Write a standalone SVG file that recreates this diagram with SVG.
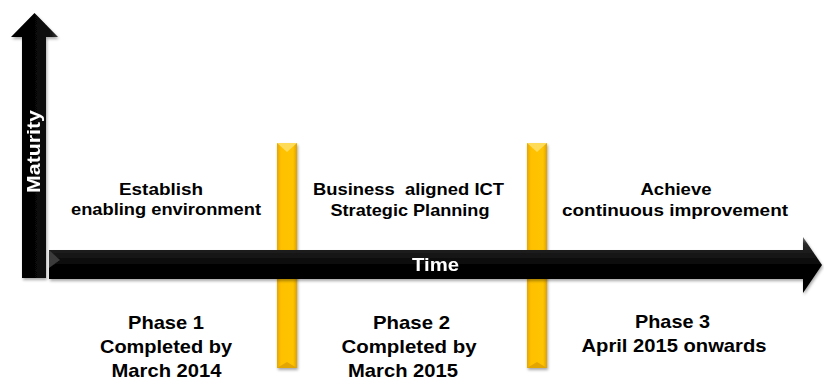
<svg xmlns="http://www.w3.org/2000/svg" width="824" height="381" viewBox="0 0 824 381">
  <defs>
    <linearGradient id="hGrad" x1="0" y1="0" x2="0" y2="1">
      <stop offset="0" stop-color="#7a7a7a"/>
      <stop offset="0.12" stop-color="#2a2a2a"/>
      <stop offset="0.5" stop-color="#050505"/>
      <stop offset="1" stop-color="#000"/>
    </linearGradient>
    <linearGradient id="vGrad" x1="0" y1="0" x2="1" y2="0">
      <stop offset="0" stop-color="#000"/>
      <stop offset="0.8" stop-color="#0a0a0a"/>
      <stop offset="1" stop-color="#3a3a3a"/>
    </linearGradient>
    <linearGradient id="barGrad" x1="0" y1="0" x2="1" y2="0">
      <stop offset="0" stop-color="#E6A700"/>
      <stop offset="0.2" stop-color="#FFC000"/>
      <stop offset="0.8" stop-color="#FFC400"/>
      <stop offset="1" stop-color="#DDA000"/>
    </linearGradient>
    <filter id="sh" x="-20%" y="-20%" width="140%" height="140%">
      <feGaussianBlur in="SourceAlpha" stdDeviation="1.5"/>
      <feOffset dx="1" dy="2" result="b"/>
      <feComponentTransfer><feFuncA type="linear" slope="0.35"/></feComponentTransfer>
      <feMerge><feMergeNode/><feMergeNode in="SourceGraphic"/></feMerge>
    </filter>
  </defs>
  <style>
    .t { font-family: "Liberation Sans", Arial, sans-serif; font-weight: bold; fill: #000; text-anchor: middle; }
    .top { font-size: 17px; }
    .ph { font-size: 18.5px; }
    .w { fill: #fff; }
  </style>
  <rect width="824" height="381" fill="#fff"/>

  <g id="dividers">
    <g id="divider1" filter="url(#sh)">
      <rect x="277" y="143" width="20" height="225" fill="url(#barGrad)"/>
      <polygon points="277,143 297,143 287,152" fill="#FFDB5A"/>
      <polygon points="277,368 297,368 287,362" fill="#E3A500"/>
    </g>
    <g id="divider2" filter="url(#sh)">
      <rect x="527" y="143" width="20" height="225" fill="url(#barGrad)"/>
      <polygon points="527,143 547,143 537,152" fill="#FFDB5A"/>
      <polygon points="527,368 547,368 537,362" fill="#E3A500"/>
    </g>
  </g>

  <g id="connectors">
    <g id="maturity-axis" filter="url(#sh)">
      <polygon points="22,278 22,37 11,37 34.5,13 58,37 46,37 46,278" fill="url(#vGrad)"/>
      <text class="t w" font-size="18" textLength="83" lengthAdjust="spacingAndGlyphs" transform="translate(40,151.5) rotate(-90)">Maturity</text>
    </g>
    <g id="time-axis" filter="url(#sh)">
      <polygon points="49,250 803,250 803,237 822,265 803,293 803,279 49,279" fill="url(#hGrad)"/>
      <polygon points="49,250 60,260 49,268" fill="#3a3a3a"/>
      <text class="t w" font-size="18.7" x="435.5" y="271" textLength="47" lengthAdjust="spacingAndGlyphs">Time</text>
    </g>
  </g>

  <g id="phase1">
    <text class="t top" x="161" y="195" textLength="84" lengthAdjust="spacingAndGlyphs">Establish</text>
    <text class="t top" x="166" y="215" textLength="190" lengthAdjust="spacingAndGlyphs">enabling environment</text>
    <text class="t ph" x="166" y="329" textLength="76" lengthAdjust="spacingAndGlyphs">Phase 1</text>
    <text class="t ph" x="166" y="353" textLength="132" lengthAdjust="spacingAndGlyphs">Completed by</text>
    <text class="t ph" x="166.5" y="377" textLength="110" lengthAdjust="spacingAndGlyphs">March 2014</text>
  </g>

  <g id="phase2">
    <text class="t top" x="408.5" y="195" textLength="191" lengthAdjust="spacingAndGlyphs">Business&#160; aligned ICT</text>
    <text class="t top" x="410" y="216" textLength="159" lengthAdjust="spacingAndGlyphs">Strategic Planning</text>
    <text class="t ph" x="411.5" y="329" textLength="77" lengthAdjust="spacingAndGlyphs">Phase 2</text>
    <text class="t ph" x="409" y="353" textLength="135" lengthAdjust="spacingAndGlyphs">Completed by</text>
    <text class="t ph" x="403" y="377" textLength="110" lengthAdjust="spacingAndGlyphs">March 2015</text>
  </g>

  <g id="phase3">
    <text class="t top" x="676" y="195" textLength="71" lengthAdjust="spacingAndGlyphs">Achieve</text>
    <text class="t top" x="675" y="216" textLength="226" lengthAdjust="spacingAndGlyphs">continuous improvement</text>
    <text class="t ph" x="672.5" y="328" textLength="75" lengthAdjust="spacingAndGlyphs">Phase 3</text>
    <text class="t ph" x="674" y="352" textLength="185" lengthAdjust="spacingAndGlyphs">April 2015 onwards</text>
  </g>
</svg>
